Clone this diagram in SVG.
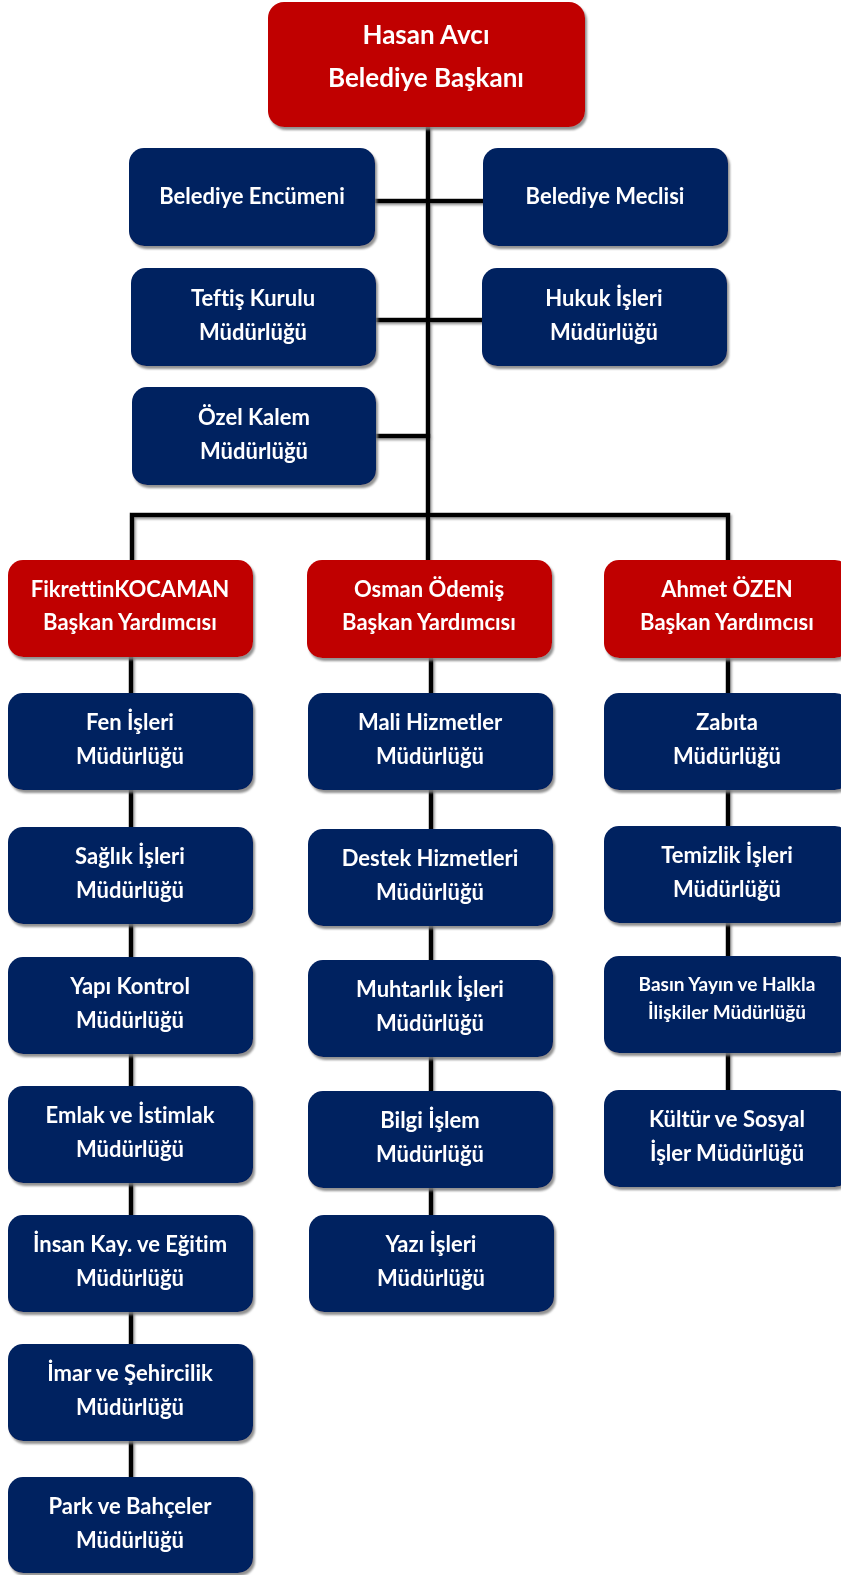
<svg xmlns="http://www.w3.org/2000/svg" width="841" height="1575" viewBox="0 0 841 1575">
<style>
.box{stroke:none}
.red{fill:#C00000}
.blue{fill:#002060}
.t{font-family:Lato,"Liberation Sans",sans-serif;font-weight:bold;font-size:22px;fill:#FFFFFF;text-anchor:middle;font-variant-ligatures:none}
.big{font-size:26px}
.sm{font-size:19px}
.ln{stroke:#000000;stroke-width:4.5;fill:none;stroke-linecap:square}
</style>
<defs>
<filter id="sh" x="-5%" y="-5%" width="115%" height="120%">
<feDropShadow dx="2" dy="3" stdDeviation="1.2" flood-color="#7f7f7f" flood-opacity="0.85"/>
</filter>
<filter id="lsh" x="-20%" y="-20%" width="140%" height="140%">
<feDropShadow dx="1.5" dy="2" stdDeviation="0.8" flood-color="#808080" flood-opacity="0.8"/>
</filter>
</defs>
<g id="connectors" filter="url(#lsh)">
<path class="ln" d="M428 127 V560"/>
<path class="ln" d="M375 201 H483"/>
<path class="ln" d="M376 320 H482"/>
<path class="ln" d="M376 436 H428"/>
<path class="ln" d="M132 560 V515 H728 V560"/>
<path class="ln" d="M131 657 V1477"/>
<path class="ln" d="M431 658 V1215"/>
<path class="ln" d="M728 658 V1090"/>
</g>
<g id="baskan" filter="url(#sh)"><rect class="box red" x="268" y="2" width="317" height="125" rx="16"/><text class="t big" x="426" y="44">Hasan Avcı</text><text class="t big" x="426" y="87">Belediye Başkanı</text></g>
<g id="encumen" filter="url(#sh)"><rect class="box blue" x="129" y="148" width="246" height="98" rx="15"/><text class="t" x="252" y="204">Belediye Encümeni</text></g>
<g id="meclis" filter="url(#sh)"><rect class="box blue" x="483" y="148" width="245" height="98" rx="15"/><text class="t" x="605" y="204">Belediye Meclisi</text></g>
<g id="teftis" filter="url(#sh)"><rect class="box blue" x="131" y="268" width="245" height="98" rx="15"/><text class="t" x="253" y="306">Teftiş Kurulu</text><text class="t" x="253" y="340">Müdürlüğü</text></g>
<g id="hukuk" filter="url(#sh)"><rect class="box blue" x="482" y="268" width="245" height="98" rx="15"/><text class="t" x="604" y="306">Hukuk İşleri</text><text class="t" x="604" y="340">Müdürlüğü</text></g>
<g id="ozelkalem" filter="url(#sh)"><rect class="box blue" x="132" y="387" width="244" height="98" rx="15"/><text class="t" x="254" y="425">Özel Kalem</text><text class="t" x="254" y="459">Müdürlüğü</text></g>
<g id="vp1" filter="url(#sh)"><rect class="box red" x="8" y="560" width="245" height="97" rx="15"/><text class="t" x="130" y="597">FikrettinKOCAMAN</text><text class="t" x="130" y="630">Başkan Yardımcısı</text></g>
<g id="vp2" filter="url(#sh)"><rect class="box red" x="307" y="560" width="245" height="98" rx="15"/><text class="t" x="429" y="597">Osman Ödemiş</text><text class="t" x="429" y="630">Başkan Yardımcısı</text></g>
<g id="vp3" filter="url(#sh)"><rect class="box red" x="604" y="560" width="246" height="98" rx="15"/><text class="t" x="727" y="597">Ahmet ÖZEN</text><text class="t" x="727" y="630">Başkan Yardımcısı</text></g>
<g id="fen" filter="url(#sh)"><rect class="box blue" x="8" y="693" width="245" height="97" rx="15"/><text class="t" x="130" y="730">Fen İşleri</text><text class="t" x="130" y="764">Müdürlüğü</text></g>
<g id="saglik" filter="url(#sh)"><rect class="box blue" x="8" y="827" width="245" height="97" rx="15"/><text class="t" x="130" y="864">Sağlık İşleri</text><text class="t" x="130" y="898">Müdürlüğü</text></g>
<g id="yapi" filter="url(#sh)"><rect class="box blue" x="8" y="957" width="245" height="97" rx="15"/><text class="t" x="130" y="994">Yapı Kontrol</text><text class="t" x="130" y="1028">Müdürlüğü</text></g>
<g id="emlak" filter="url(#sh)"><rect class="box blue" x="8" y="1086" width="245" height="97" rx="15"/><text class="t" x="130" y="1123">Emlak ve İstimlak</text><text class="t" x="130" y="1157">Müdürlüğü</text></g>
<g id="insan" filter="url(#sh)"><rect class="box blue" x="8" y="1215" width="245" height="97" rx="15"/><text class="t" x="130" y="1252">İnsan Kay. ve Eğitim</text><text class="t" x="130" y="1286">Müdürlüğü</text></g>
<g id="imar" filter="url(#sh)"><rect class="box blue" x="8" y="1344" width="245" height="97" rx="15"/><text class="t" x="130" y="1381">İmar ve Şehircilik</text><text class="t" x="130" y="1415">Müdürlüğü</text></g>
<g id="park" filter="url(#sh)"><rect class="box blue" x="8" y="1477" width="245" height="96" rx="15"/><text class="t" x="130" y="1514">Park ve Bahçeler</text><text class="t" x="130" y="1548">Müdürlüğü</text></g>
<g id="mali" filter="url(#sh)"><rect class="box blue" x="308" y="693" width="245" height="97" rx="15"/><text class="t" x="430" y="730">Mali Hizmetler</text><text class="t" x="430" y="764">Müdürlüğü</text></g>
<g id="destek" filter="url(#sh)"><rect class="box blue" x="308" y="829" width="245" height="97" rx="15"/><text class="t" x="430" y="866">Destek Hizmetleri</text><text class="t" x="430" y="900">Müdürlüğü</text></g>
<g id="muhtarlik" filter="url(#sh)"><rect class="box blue" x="308" y="960" width="245" height="97" rx="15"/><text class="t" x="430" y="997">Muhtarlık İşleri</text><text class="t" x="430" y="1031">Müdürlüğü</text></g>
<g id="bilgi" filter="url(#sh)"><rect class="box blue" x="308" y="1091" width="245" height="97" rx="15"/><text class="t" x="430" y="1128">Bilgi İşlem</text><text class="t" x="430" y="1162">Müdürlüğü</text></g>
<g id="yazi" filter="url(#sh)"><rect class="box blue" x="309" y="1215" width="245" height="97" rx="15"/><text class="t" x="431" y="1252">Yazı İşleri</text><text class="t" x="431" y="1286">Müdürlüğü</text></g>
<g id="zabita" filter="url(#sh)"><rect class="box blue" x="604" y="693" width="246" height="97" rx="15"/><text class="t" x="727" y="730">Zabıta</text><text class="t" x="727" y="764">Müdürlüğü</text></g>
<g id="temizlik" filter="url(#sh)"><rect class="box blue" x="604" y="826" width="246" height="97" rx="15"/><text class="t" x="727" y="863">Temizlik İşleri</text><text class="t" x="727" y="897">Müdürlüğü</text></g>
<g id="basin" filter="url(#sh)"><rect class="box blue" x="604" y="956" width="246" height="97" rx="15"/><text class="t sm" x="727" y="991">Basın Yayın ve Halkla</text><text class="t sm" x="727" y="1019">İlişkiler Müdürlüğü</text></g>
<g id="kultur" filter="url(#sh)"><rect class="box blue" x="604" y="1090" width="246" height="97" rx="15"/><text class="t" x="727" y="1127">Kültür ve Sosyal</text><text class="t" x="727" y="1161">İşler Müdürlüğü</text></g>
</svg>
